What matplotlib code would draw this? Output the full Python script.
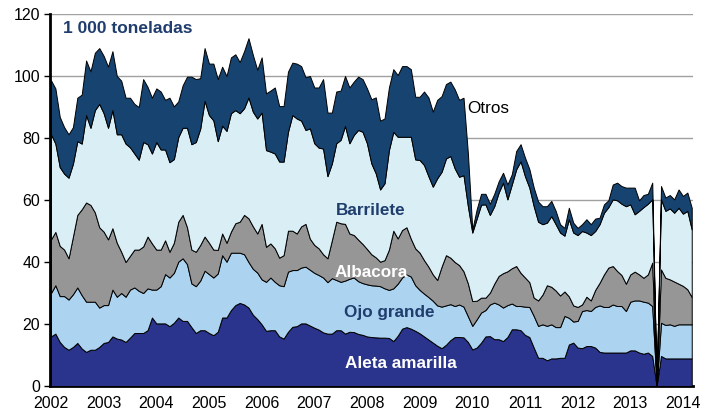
import matplotlib.pyplot as plt
import numpy as np

plt.rcParams['font.family'] = ['Liberation Sans', 'DejaVu Sans']

# monthly catches, Jan 2002 .. Mar 2014 (thousand t), read as the top of each stacked layer
months = np.arange(147)

aleta_top = [
    16.0, 16.9, 14.2, 12.6, 11.7, 12.6, 13.9, 12.1, 11.0, 11.7, 11.7, 12.6,
    13.9, 14.2, 16.0, 15.3, 15.0, 14.2, 15.6, 17.1, 17.1, 17.1, 18.0, 22.1,
    20.2, 20.2, 20.2, 19.3, 20.4, 22.1, 21.0, 21.0, 19.0, 17.1, 18.0, 18.0,
    17.1, 16.4, 17.5, 22.1, 22.1, 24.5, 26.1, 26.8, 26.3, 25.3, 23.0, 21.6,
    19.9, 17.8, 18.0, 18.0, 16.0, 15.3, 17.5, 19.1, 19.3, 20.2, 20.2, 19.5,
    18.8, 18.2, 17.3, 16.9, 16.9, 18.0, 18.0, 16.9, 17.5, 17.4, 16.8, 16.5,
    16.0, 15.8, 15.7, 15.6, 15.6, 15.5, 14.5, 16.2, 18.5, 19.0, 18.5, 17.8,
    17.0, 16.0, 15.0, 14.0, 13.0, 12.2, 13.3, 14.8, 15.8, 15.8, 15.7, 14.2,
    11.8, 12.4, 14.0, 16.0, 16.1, 15.1, 15.1, 14.5, 15.8, 18.3, 18.3, 18.0,
    16.5, 15.8, 12.4, 9.1, 9.1, 8.3, 8.9, 8.9, 9.1, 9.1, 13.4, 14.0,
    12.4, 12.2, 12.9, 12.9, 12.4, 11.0, 10.8, 10.8, 10.8, 10.8, 10.8, 10.8,
    11.5, 11.5, 10.8, 10.4, 10.8, 9.7, 0.0, 9.7, 8.9, 8.9, 8.9, 8.9,
    8.9, 8.9, 8.9,
]
ojo_top = [
    30.0, 32.5, 29.0, 29.0, 27.9, 29.6, 31.8, 29.3, 27.2, 27.2, 27.2, 25.3,
    26.1, 26.1, 31.1, 28.8, 30.0, 28.8, 31.1, 31.8, 30.7, 30.0, 31.5, 31.1,
    31.1, 32.2, 36.1, 35.0, 36.5, 40.1, 41.2, 39.3, 33.1, 32.2, 34.0, 37.2,
    36.1, 35.0, 36.3, 42.2, 40.1, 43.0, 43.0, 43.0, 42.5, 40.0, 37.8, 36.6,
    34.4, 33.6, 35.0, 33.6, 32.5, 32.2, 36.9, 37.4, 37.4, 38.2, 38.5, 37.5,
    36.5, 35.8, 35.0, 33.5, 34.8, 34.2, 33.6, 34.0, 34.6, 35.0, 33.8, 33.2,
    32.8, 32.5, 32.4, 32.2, 31.5, 31.0, 31.5, 33.0, 35.0, 36.0, 35.3, 32.5,
    31.0, 29.8, 28.7, 27.5, 26.0, 25.6, 26.0, 26.4, 25.8, 26.3, 25.6, 22.5,
    19.4, 21.5, 23.7, 24.5, 26.3, 26.9, 26.3, 25.3, 26.1, 26.6, 25.8, 25.8,
    25.6, 25.5, 22.6, 19.4, 19.9, 19.4, 19.9, 19.0, 19.0, 22.6, 22.0, 20.8,
    21.0, 24.2, 24.5, 24.2, 25.5, 26.0, 25.5, 25.5, 26.3, 25.8, 25.8, 24.2,
    27.2, 27.6, 27.6, 27.2, 26.9, 25.8, 0.0, 20.4, 19.7, 19.9, 19.4, 19.9,
    19.9, 19.9, 19.9,
]
albacora_top = [
    47.3, 49.7, 45.2, 44.0, 41.2, 48.2, 55.2, 57.0, 59.2, 58.4, 56.0, 51.2,
    49.8, 47.3, 50.9, 46.2, 43.3, 40.0, 42.0, 44.0, 44.0, 45.0, 48.2, 46.0,
    44.0, 44.0, 47.0, 43.3, 46.2, 53.0, 55.2, 51.2, 44.0, 43.3, 45.5, 48.2,
    46.2, 44.0, 43.9, 49.2, 46.2, 49.8, 52.5, 53.0, 55.2, 54.1, 51.5, 49.2,
    52.3, 44.9, 46.0, 44.4, 41.4, 42.2, 50.1, 50.1, 49.2, 51.5, 52.3, 47.5,
    45.5, 44.4, 42.5, 41.2, 47.0, 53.0, 52.5, 52.3, 49.2, 48.7, 47.2, 45.8,
    44.2, 42.5, 41.5, 40.1, 40.6, 44.0, 50.1, 47.6, 50.3, 51.2, 47.5, 44.4,
    43.0, 40.6, 38.5, 36.0, 34.2, 38.5, 42.2, 41.4, 40.0, 39.0, 37.0, 33.1,
    27.4, 27.5, 28.5, 28.5, 30.1, 33.0, 35.5, 36.4, 37.0, 38.0, 38.7, 36.5,
    35.0, 33.5, 28.5, 27.6, 29.5, 32.5, 32.0, 30.8, 29.2, 30.5, 28.9, 26.0,
    25.5, 26.3, 28.8, 27.6, 31.0, 33.3, 36.0, 38.2, 38.7, 37.1, 35.8, 33.0,
    36.0, 36.9, 36.0, 34.9, 36.0, 39.8, 0.0, 37.6, 34.9, 34.4, 33.7, 33.0,
    32.3, 31.2, 28.7,
]
barrilete_top = [
    81.2, 78.2, 70.6, 68.5, 67.2, 71.7, 79.0, 78.2, 87.4, 83.3, 89.0, 91.0,
    88.0, 83.3, 89.0, 81.2, 81.2, 78.2, 77.0, 75.0, 73.0, 78.7, 78.0, 75.0,
    78.7, 76.3, 76.3, 72.2, 73.2, 80.3, 83.3, 83.3, 78.0, 78.7, 83.0, 92.0,
    87.4, 85.7, 79.0, 84.0, 82.3, 88.0, 89.0, 88.0, 89.6, 93.1, 88.5, 86.3,
    88.2, 76.1, 75.6, 75.0, 72.4, 72.4, 82.0, 87.4, 86.3, 85.6, 82.6, 83.1,
    78.3, 76.9, 76.6, 67.7, 71.8, 78.3, 79.4, 83.9, 78.3, 81.0, 82.6, 82.0,
    78.3, 71.8, 68.6, 63.4, 65.4, 76.1, 82.0, 80.4, 80.4, 80.4, 80.4, 73.1,
    72.9, 71.3, 67.7, 64.3, 67.0, 69.1, 73.4, 74.2, 70.2, 67.5, 68.0, 58.0,
    49.5, 54.0, 58.5, 58.6, 55.2, 58.0, 62.4, 65.6, 60.2, 65.0, 69.9, 72.5,
    67.7, 64.0, 58.0, 53.0, 52.2, 52.7, 54.8, 52.2, 49.5, 48.5, 53.8, 49.5,
    48.7, 50.0, 49.5, 48.7, 50.0, 52.2, 55.9, 57.7, 60.2, 59.9, 58.8, 58.0,
    58.6, 55.4, 56.5, 57.7, 58.8, 60.2, 0.0, 60.2, 56.5, 57.3, 55.9, 57.5,
    55.6, 56.5, 50.5,
]
total = [
    98.6, 96.0, 86.8, 83.5, 81.2, 83.5, 93.0, 94.0, 105.0, 101.5, 107.5, 109.0,
    106.5, 103.0, 108.0, 100.0, 98.5, 93.0, 93.0, 91.0, 90.0, 99.0, 96.5, 93.0,
    96.0, 95.0, 92.3, 93.0, 90.2, 91.8, 97.0, 99.8, 99.8, 99.0, 99.3, 109.0,
    104.0, 104.0, 99.0, 103.0, 100.0, 106.0, 107.0, 104.5, 108.0, 112.2, 106.8, 102.0,
    106.0, 94.4, 95.3, 96.3, 90.3, 90.3, 101.4, 104.3, 104.0, 103.2, 99.6, 100.0,
    96.3, 96.3, 99.0, 88.2, 88.2, 95.0, 95.3, 100.0, 96.3, 98.2, 99.8, 99.0,
    96.0, 92.5, 93.1, 85.6, 86.3, 96.3, 102.2, 100.3, 103.2, 103.2, 102.2, 93.3,
    93.3, 95.0, 93.1, 88.5, 92.3, 93.5, 97.4, 98.2, 95.7, 92.3, 93.0, 75.0,
    50.5, 57.0, 62.0, 62.0, 58.8, 62.0, 66.0, 68.8, 65.0, 68.3, 75.8, 78.0,
    73.7, 70.0, 64.0, 59.5, 58.0, 58.0, 59.7, 56.5, 52.2, 51.0, 57.5, 52.7,
    51.0, 52.2, 53.8, 52.2, 54.0, 54.3, 58.6, 59.9, 65.0, 65.6, 64.5, 64.0,
    64.0, 64.0, 59.9, 61.6, 62.0, 65.6, 0.0, 64.5, 60.8, 61.6, 60.2, 63.4,
    61.3, 62.4, 57.5,
]

SPECIES = ['Aleta amarilla', 'Ojo grande', 'Albacora', 'Barrilete', 'Otros']
COLORS = ['#2b348c', '#acd3f0', '#969696', '#daeef6', '#16436f']
NAVY_TEXT = '#1f3d6d'

years = 2002 + months / 12
tops = np.vstack([aleta_top, ojo_top, albacora_top, barrilete_top, total])
layers = np.diff(np.vstack([np.zeros(len(months)), tops]), axis=0)

fig = plt.figure(figsize=(7.1, 4.12), dpi=100)
ax = fig.add_axes([0.0704, 0.0631, 0.9056, 0.9029])

ax.stackplot(years, layers, colors=COLORS, edgecolor='black', linewidth=0.7, zorder=3)

ax.set_xlim(2001.981, 2014.19)
ax.set_ylim(0, 120)
ax.set_yticks(np.arange(0, 121, 20))
ax.set_xticks(np.arange(2002, 2015))
ax.tick_params(axis='x', length=0, pad=7, labelsize=11.5)
ax.tick_params(axis='y', length=4, width=1, pad=3, labelsize=11.5)
ax.grid(axis='y', color='#a0a0a0', linewidth=1.0, zorder=0)
ax.set_axisbelow(True)
ax.spines['top'].set_visible(False)
ax.spines['right'].set_visible(False)
ax.spines['left'].set_linewidth(2)
ax.spines['bottom'].set_linewidth(2)

ax.text(2002.23, 113.8, '1 000 toneladas', fontsize=12.5, fontweight='bold',
        color=NAVY_TEXT, ha='left', va='baseline', zorder=5)
ax.text(2009.91, 88.2, 'Otros', fontsize=12.3, color='black', ha='left', va='baseline', zorder=5)
ax.text(2008.08, 55.2, 'Barrilete', fontsize=12.3, fontweight='bold', color=NAVY_TEXT,
        ha='center', va='baseline', zorder=5)
ax.text(2008.08, 35.2, 'Albacora', fontsize=12.3, fontweight='bold', color='white',
        ha='center', va='baseline', zorder=5)
ax.text(2008.42, 22.3, 'Ojo grande', fontsize=12.3, fontweight='bold', color=NAVY_TEXT,
        ha='center', va='baseline', zorder=5)
ax.text(2008.65, 5.8, 'Aleta amarilla', fontsize=12.3, fontweight='bold', color='white',
        ha='center', va='baseline', zorder=5)

fig.savefig('out.png', dpi=100)
